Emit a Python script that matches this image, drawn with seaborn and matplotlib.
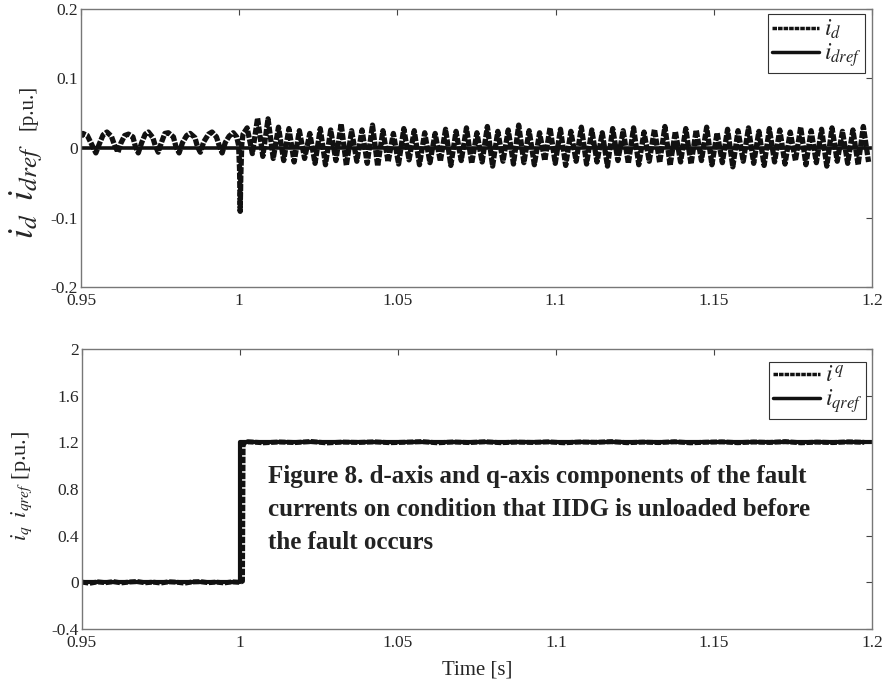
import numpy as np
import pandas as pd
import matplotlib
matplotlib.use('Agg')
import matplotlib.pyplot as plt
import seaborn as sns

# ---- data ----
# d-axis current before the fault and around the fault instant
id_pre_t = [0.9500, 0.9506, 0.9520, 0.9535, 0.9547, 0.9558, 0.9570, 0.9582, 0.9596, 0.9607,
            0.9617, 0.9626, 0.9638, 0.9650, 0.9664, 0.9672, 0.9681, 0.9692, 0.9703, 0.9713,
            0.9727, 0.9735, 0.9744, 0.9755, 0.9765, 0.9776, 0.9792, 0.9800, 0.9810, 0.9821,
            0.9834, 0.9845, 0.9860, 0.9868, 0.9877, 0.9888, 0.9903, 0.9914, 0.9928, 0.9937,
            0.9946, 0.9956, 0.9968, 0.9981, 0.9992, 0.9998, 1.0001, 1.0003, 1.0005, 1.0008,
            1.0012]
id_pre_v = [0.016, 0.021, 0.018, 0.004, -0.007, 0.006, 0.019, 0.023, 0.017, 0.003,
            -0.006, 0.007, 0.018, 0.020, 0.016, 0.002, -0.007, 0.008, 0.020, 0.023,
            0.015, 0.003, -0.006, 0.009, 0.021, 0.022, 0.016, 0.002, -0.007, 0.008,
            0.018, 0.021, 0.015, 0.002, -0.006, 0.009, 0.020, 0.023, 0.016, 0.003,
            -0.007, 0.008, 0.017, 0.022, 0.016, 0.004, -0.030, -0.091, -0.040, 0.005,
            0.020]

# d-axis current after the fault: successive peaks and troughs
id_post_peaks = [0.029, 0.043, 0.042, 0.030, 0.028, 0.025, 0.021, 0.028, 0.026, 0.035,
                 0.025, 0.026, 0.033, 0.025, 0.021, 0.028, 0.025, 0.022, 0.021, 0.027,
                 0.024, 0.029, 0.022, 0.031, 0.024, 0.026, 0.033, 0.025, 0.022, 0.029,
                 0.027, 0.024, 0.030, 0.026, 0.022, 0.028, 0.025, 0.029, 0.023, 0.027,
                 0.031, 0.024, 0.028, 0.026, 0.030, 0.022, 0.027, 0.025, 0.029, 0.024,
                 0.028, 0.026, 0.023, 0.030, 0.025, 0.027, 0.029, 0.024, 0.026, 0.031]
id_post_troughs = [-0.008, -0.012, -0.015, -0.018, -0.020, -0.015, -0.022, -0.024, -0.018, -0.025,
                   -0.019, -0.022, -0.026, -0.020, -0.023, -0.017, -0.024, -0.021, -0.019, -0.025,
                   -0.018, -0.022, -0.020, -0.026, -0.019, -0.023, -0.021, -0.024, -0.018, -0.022,
                   -0.025, -0.019, -0.023, -0.020, -0.026, -0.018, -0.022, -0.024, -0.019, -0.021,
                   -0.025, -0.020, -0.023, -0.018, -0.024, -0.021, -0.027, -0.019, -0.022, -0.025,
                   -0.020, -0.023, -0.018, -0.024, -0.021, -0.026, -0.019, -0.022, -0.024, -0.020]
id_post_start = 1.0025
id_post_period = 0.0033

idref_t = [0.95, 1.2]
idref_v = [0.0, 0.0]

# q-axis current
iq_pre_v = [0.002, -0.008, 0.004, -0.003, 0.006, -0.005, 0.003, 0.007, -0.004, 0.002,
            -0.006, 0.005, 0.001, -0.007, 0.004, 0.006, -0.003, 0.002, -0.005, 0.004]
iq_step_t = [1.0000, 1.0008, 1.0010]
iq_step_v = [0.000, 0.010, 1.190]
iq_post_v = [1.205, 1.196, 1.203, 1.198, 1.207, 1.195, 1.202, 1.199, 1.204, 1.197,
             1.201, 1.206, 1.196, 1.203, 1.198, 1.205, 1.197, 1.202, 1.199, 1.204,
             1.196, 1.203, 1.200, 1.206, 1.197, 1.202, 1.198, 1.205, 1.196, 1.201,
             1.204, 1.197, 1.203, 1.199, 1.206, 1.196, 1.202, 1.198, 1.204, 1.200]

iqref_t = [0.95, 1.0, 1.0, 1.2]
iqref_v = [0.0, 0.0, 1.2, 1.2]

xticks = [0.95, 1.0, 1.05, 1.1, 1.15, 1.2]
xticklabels = ['0.95', '1', '1.05', '1.1', '1.15', '1.2']
yticks_d = [-0.2, -0.1, 0.0, 0.1, 0.2]
yticklabels_d = ['-0.2', '-0.1', '0', '0.1', '0.2']
yticks_q = [-0.4, 0.0, 0.4, 0.8, 1.2, 1.6, 2.0]
yticklabels_q = ['-0.4', '0', '0.4', '0.8', '1.2', '1.6', '2']

caption = ('Figure 8. d-axis and q-axis components of the fault\n'
           'currents on condition that IIDG is unloaded before\n'
           'the fault occurs')

# ---- assemble series ----
n = len(id_post_peaks)
pk_t = id_post_start + id_post_period * np.arange(n)
tr_t = pk_t + id_post_period / 2
post_t = np.column_stack([pk_t, tr_t]).ravel()
post_v = np.column_stack([id_post_peaks, id_post_troughs]).ravel()
id_df = pd.DataFrame({'t': np.concatenate([id_pre_t, post_t]),
                      'v': np.concatenate([id_pre_v, post_v])})

iq_pre_t = 0.95 + 0.0025 * np.arange(len(iq_pre_v))
iq_post_t = 1.0025 + 0.005 * np.arange(len(iq_post_v))
iq_df = pd.DataFrame({'t': np.concatenate([iq_pre_t, iq_step_t, iq_post_t]),
                      'v': np.concatenate([iq_pre_v, iq_step_v, iq_post_v])})

# ---- style ----
sns.set_style('white')
plt.rcParams['font.family'] = ['Liberation Serif', 'DejaVu Serif']
plt.rcParams['mathtext.fontset'] = 'stix'
plt.rcParams['xtick.direction'] = 'in'
plt.rcParams['ytick.direction'] = 'in'

fig = plt.figure(figsize=(8.9, 6.87), dpi=100)
ax1 = fig.add_axes([0.091, 0.582, 0.889, 0.405])
ax2 = fig.add_axes([0.092, 0.0844, 0.888, 0.4076])

dots = (0, (1.3, 0.3))

sns.lineplot(data=id_df, x='t', y='v', ax=ax1, color='#111111', lw=3.8,
             linestyle=dots, sort=False, estimator=None, label=r'$i_d$')
sns.lineplot(x=idref_t, y=idref_v, ax=ax1, color='#111111', lw=2.6,
             sort=False, estimator=None, label=r'$i_{dref}$')

sns.lineplot(data=iq_df, x='t', y='v', ax=ax2, color='#111111', lw=3.6,
             linestyle=dots, sort=False, estimator=None, label=r'$i^q$')
sns.lineplot(x=iqref_t, y=iqref_v, ax=ax2, color='#111111', lw=3.0,
             sort=False, estimator=None, label=r'$i_{qref}$')

for ax, yt, ytl, ylim, anchor in [(ax1, yticks_d, yticklabels_d, (-0.2, 0.2), (0.991, 0.98)),
                                  (ax2, yticks_q, yticklabels_q, (-0.4, 2.0), (0.992, 0.952))]:
    ax.set_xlim(0.95, 1.2)
    ax.set_ylim(*ylim)
    ax.set_xticks(xticks)
    ax.set_xticklabels(xticklabels)
    ax.set_yticks(yt)
    ax.set_yticklabels(ytl)
    ax.tick_params(axis='both', which='both', top=True, right=True, length=4,
                   width=0.8, color='#444444', labelsize=12.5, pad=2)
    ax.tick_params(axis='x', pad=4)
    for s in ax.spines.values():
        s.set_color('#777777')
        s.set_linewidth(1.0)
    ax.set_xlabel('')
    ax.set_ylabel('')
    leg = ax.legend(loc='upper right', bbox_to_anchor=anchor, fontsize=17,
                    handlelength=2.0, handletextpad=0.2, labelspacing=0.0,
                    borderpad=0.15, borderaxespad=0.0, fancybox=False, framealpha=1)
    leg.get_frame().set_edgecolor('#333333')
    leg.get_frame().set_linewidth(0.8)
    for h in leg.get_lines():
        h.set_linewidth(2.5)

ax2.set_xlabel('Time [s]', fontsize=15, labelpad=7)

# y labels (math part larger, as in the original)
fig.text(0.029, 0.722, r'$i_d\;\; i_{dref}$', rotation=90, fontsize=26,
         ha='center', va='center')
fig.text(0.031, 0.843, '[p.u.]', rotation=90, fontsize=15,
         ha='center', va='center')
fig.text(0.025, 1 - 486 / 687, r'$i_q\;\; i_{qref}$ [p.u.]', rotation=90, fontsize=16,
         ha='center', va='center')

fig.text(268 / 890, 1 - 465 / 687, caption, fontsize=18, fontweight='bold',
         ha='left', va='top', linespacing=1.55, color='#222222')

fig.savefig('out.png', dpi=100)
